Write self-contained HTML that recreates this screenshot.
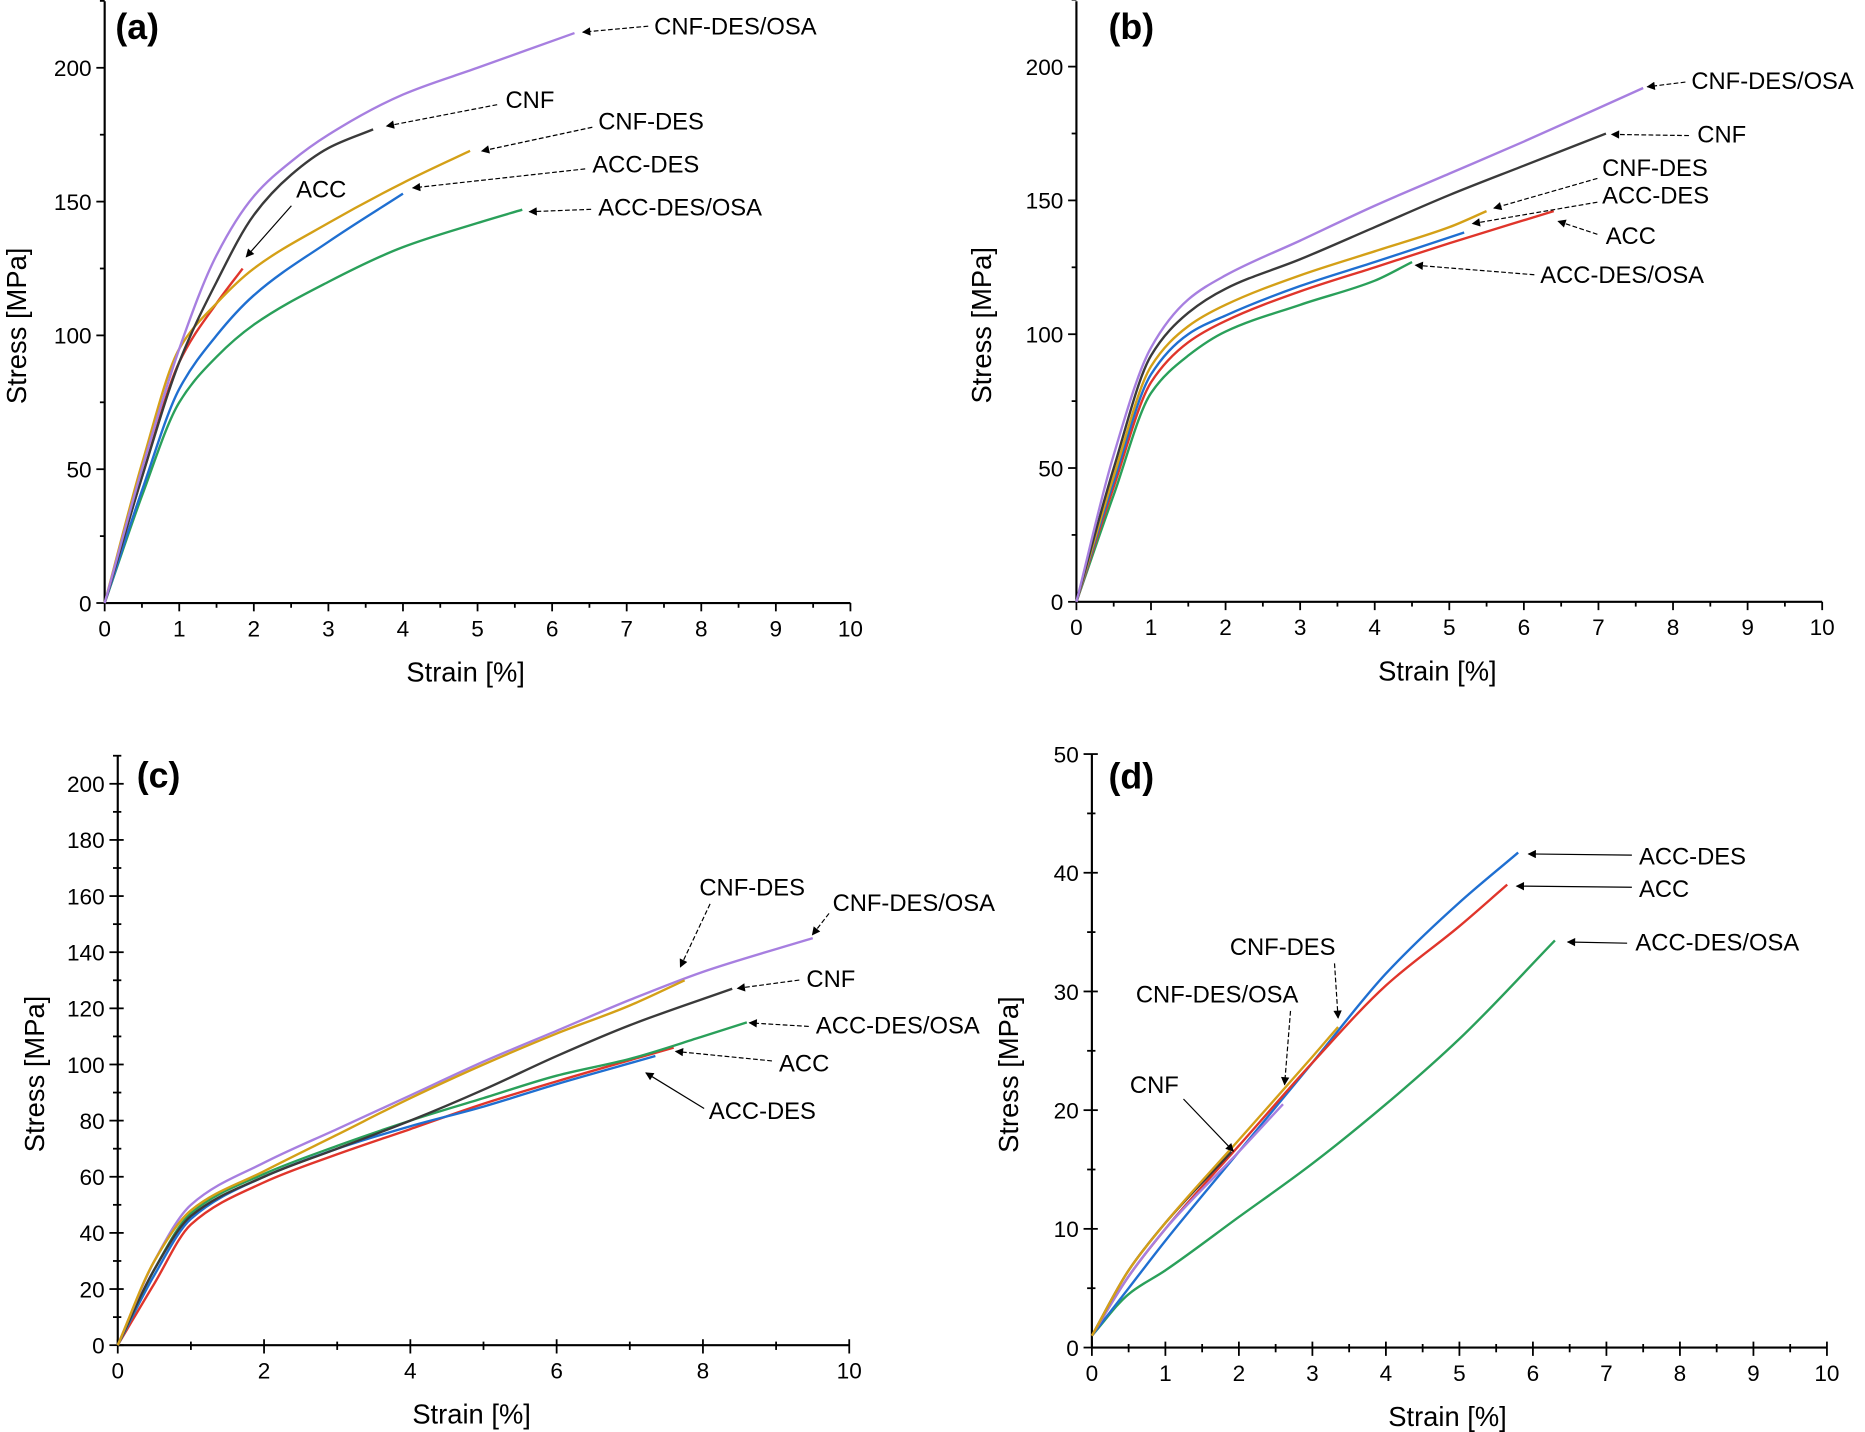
<!DOCTYPE html>
<html><head><meta charset="utf-8"><style>
html,body{margin:0;padding:0;background:#fff;}
svg{display:block;font-family:"Liberation Sans",Arial,sans-serif;}
</style></head><body>
<svg id="chart" width="1865" height="1432" viewBox="0 0 1568 1204" preserveAspectRatio="none" xmlns="http://www.w3.org/2000/svg">
<defs><marker id="ah" viewBox="0 0 10 10" refX="9" refY="5" markerWidth="10" markerHeight="7" orient="auto" markerUnits="userSpaceOnUse"><path d="M0,0 L10,5 L0,10 z" fill="#000"/></marker></defs>
</svg>
<script>
// ---- data (strain %, stress MPa) ----
const seriesNames = ["CNF-DES/OSA","CNF","CNF-DES","ACC-DES","ACC","ACC-DES/OSA"];
const seriesColors = ["#a77fe0","#3a3a3a","#d4a017","#1f6fd1","#e0352b","#2aa05a"];
// panel a
const a_cnfdesosa_x=[0,0.5,1,1.5,2,2.5,3,4,5,6.3];
const a_cnfdesosa_y=[0,50,95,130,152,165,175,190,200,213];
const a_cnf_x=[0,0.5,1,1.5,2,2.5,3,3.6];
const a_cnf_y=[0,47,90,120,145,160,170,177];
const a_cnfdes_x=[0,0.5,1,1.5,2,3,4,4.9];
const a_cnfdes_y=[0,52,95,112,125,142,157,169];
const a_accdes_x=[0,0.5,1,1.5,2,3,4];
const a_accdes_y=[0,42,80,100,115,135,153];
const a_acc_x=[0,0.5,1,1.5,1.85];
const a_acc_y=[0,47,90,112,125];
const a_accdesosa_x=[0,0.5,1,1.5,2,3,4,5,5.6];
const a_accdesosa_y=[0,40,75,92,104,120,133,142,147];
// panel b
const b_cnfdesosa_x=[0,0.5,1,1.5,2,3,4,5,6,7.6];
const b_cnfdesosa_y=[0,55,95,113,122,135,148,160,172,192];
const b_cnf_x=[0,0.5,1,1.5,2,3,4,5,6,7.1];
const b_cnf_y=[0,50,92,108,117,128,140,152,163,175];
const b_cnfdes_x=[0,0.5,1,1.5,2,3,4,5,5.5];
const b_cnfdes_y=[0,47,88,103,111,122,131,140,146];
const b_accdes_x=[0,0.5,1,1.5,2,3,4,5.2];
const b_accdes_y=[0,45,85,100,107,118,127,138];
const b_acc_x=[0,0.5,1,1.5,2,3,4,5,6.4];
const b_acc_y=[0,43,82,97,105,116,125,134,146];
const b_accdesosa_x=[0,0.5,1,1.5,2,3,4,4.5];
const b_accdesosa_y=[0,40,78,92,101,111,120,127];
// panel c
const c_cnfdesosa_x=[0,0.5,1,2,3,4,5,6,7,8,9.5];
const c_cnfdesosa_y=[0,30,50,65,77,89,101,112,123,133,145];
const c_cnf_x=[0,0.5,1,2,3,4,5,6,7,8.4];
const c_cnf_y=[0,27,46,60,70,80,91,103,114,127];
const c_cnfdes_x=[0,0.5,1,2,3,4,5,6,7,7.75];
const c_cnfdes_y=[0,30,48,62,75,88,100,111,121,130];
const c_accdes_x=[0,0.5,1,2,3,4,5,6,7.35];
const c_accdes_y=[0,25,45,60,70,78,85,93,103];
const c_acc_x=[0,0.5,1,2,3,4,5,6,7.6];
const c_acc_y=[0,22,43,58,68,77,86,94,106];
const c_accdesosa_x=[0,0.5,1,2,3,4,5,6,7,8,8.6];
const c_accdesosa_y=[0,27,47,61,71,80,88,96,102,110,115];
// panel d
const d_cnfdesosa_x=[0,0.5,1,2,2.6];
const d_cnfdesosa_y=[1,6,10,16.5,20.5];
const d_cnf_x=[0,0.5,1,1.9];
const d_cnf_y=[1,6.5,10.5,16.5];
const d_cnfdes_x=[0,0.5,1,2,3,3.35];
const d_cnfdes_y=[1,6.5,10.5,17.5,24.5,27];
const d_accdes_x=[0,0.5,1,2,3,4,5,5.8];
const d_accdes_y=[1,5,9,16.5,24,31.5,37.5,41.7];
const d_acc_x=[0,0.5,1,2,3,4,5,5.65];
const d_acc_y=[1,6,10,17,24,30.5,35.5,39];
const d_accdesosa_x=[0,0.5,1,2,3,4,5,6.3];
const d_accdesosa_y=[1,4.5,6.5,11,15.5,20.5,26,34.3];

const NS="http://www.w3.org/2000/svg";
const svg=document.getElementById('chart');
function el(tag,attrs,parent){const e=document.createElementNS(NS,tag);for(const k in attrs)e.setAttribute(k,attrs[k]);(parent||svg).appendChild(e);return e;}
// monotone cubic (Fritsch-Carlson) in pixel space
function monoPath(P){
  const n=P.length;
  if(n<3) return 'M'+P.map(p=>p[0].toFixed(1)+','+p[1].toFixed(1)).join(' L');
  const dx=[],s=[];
  for(let i=0;i<n-1;i++){dx[i]=P[i+1][0]-P[i][0];s[i]=(P[i+1][1]-P[i][1])/dx[i];}
  const m=[s[0]];
  for(let i=1;i<n-1;i++){
    if(s[i-1]*s[i]<=0)m[i]=0;
    else{const w1=2*dx[i]+dx[i-1],w2=dx[i]+2*dx[i-1];m[i]=(w1+w2)/(w1/s[i-1]+w2/s[i]);}
  }
  m[n-1]=s[n-2];
  let d='M'+P[0][0].toFixed(1)+','+P[0][1].toFixed(1);
  for(let i=0;i<n-1;i++){
    const h=dx[i]/3;
    d+=` C${(P[i][0]+h).toFixed(1)},${(P[i][1]+m[i]*h).toFixed(1)} ${(P[i+1][0]-h).toFixed(1)},${(P[i+1][1]-m[i+1]*h).toFixed(1)} ${P[i+1][0].toFixed(1)},${P[i+1][1].toFixed(1)}`;
  }
  return d;
}

function panel(p){
  const g=el('g',{});
  
  
  const sx=v=>p.x0+(v-p.xmin)/(p.xmax-p.xmin)*(p.x1-p.x0);
  const sy=v=>p.y0-(v-p.ymin)/(p.ymax-p.ymin)*(p.y0-p.y1);
  const ax=el('line',{x1:p.x0,y1:p.y0,x2:p.x1,y2:p.y0,stroke:'#000','stroke-width':1.8},g);
  
  
  const ay=el('line',{x1:p.x0,y1:p.y0,x2:p.x0,y2:p.ytop,stroke:'#000','stroke-width':1.8},g);
  
  
  const ti=p.cross?5:0;
  for(let v=p.xmin;v<=p.xmax+1e-9;v+=p.xminor){
    const major=Math.abs(v/p.xstep-Math.round(v/p.xstep))<1e-6;
    const x=sx(v);
    el('line',{x1:x,y1:p.y0-(major?ti:ti*0.6),x2:x,y2:p.y0+(major?7:4),stroke:'#000','stroke-width':1.5},g);
    if(major){const t=el('text',{x:x,y:p.y0+28,'text-anchor':'middle','font-size':19},g);t.textContent=+v.toFixed(2);
      }
  }
  for(let v=p.ymin;v<=p.ymaxTick+1e-9;v+=p.yminor){
    const major=Math.abs(v/p.ystep-Math.round(v/p.ystep))<1e-6;
    const y=sy(v);
    el('line',{x1:p.x0+(major?ti:ti*0.6),y1:y,x2:p.x0-(major?7:4),y2:y,stroke:'#000','stroke-width':1.5},g);
    if(major){const t=el('text',{x:p.x0-11,y:y+7,'text-anchor':'end','font-size':19},g);t.textContent=+v.toFixed(2);
      }
  }
  const xt=el('text',{x:(p.x0+p.x1)/2-10,y:p.y0+66,'text-anchor':'middle','font-size':23},g);xt.textContent='Strain [%]';
  
  const yx=p.x0-p.ylab, yy=(p.y0+p.ytop)/2+20;
  const yt=el('text',{x:yx,y:yy,'text-anchor':'middle','font-size':23,transform:`rotate(-90 ${yx} ${yy})`},g);yt.textContent='Stress [MPa]';
  
  const pl=el('text',{x:p.lx,y:p.ly,'font-size':30,'font-weight':'bold'},g);pl.textContent='('+p.id+')';
  
  p.series.forEach(s=>{
    const pts=s.x.map((v,i)=>[sx(v),sy(s.y[i])]);
    const path=el('path',{d:monoPath(pts),fill:'none',stroke:seriesColors[s.c],'stroke-width':2,'stroke-linejoin':'round'},g);
    
    
  });
  p.ann.forEach(a=>{
    const t=el('text',{x:a[1],y:a[2],'font-size':20},g);t.textContent=a[0];
    
    const l=el('line',{x1:a[3],y1:a[4],x2:a[5],y2:a[6],stroke:'#000','stroke-width':1,'stroke-dasharray':a[7]?'4,2':'none','marker-end':'url(#ah)'},g);
    
  });
}

panel({id:'a',x0:88,x1:715,y0:507,y1:57,ytop:1,xmin:0,xmax:10,xstep:1,xminor:0.5,ymin:0,ymax:200,ymaxTick:225,ystep:50,yminor:25,ylab:66,lx:97,ly:33,cross:false,
 series:[{x:a_accdesosa_x,y:a_accdesosa_y,c:5},{x:a_accdes_x,y:a_accdes_y,c:3},{x:a_acc_x,y:a_acc_y,c:4},{x:a_cnfdes_x,y:a_cnfdes_y,c:2},{x:a_cnf_x,y:a_cnf_y,c:1},{x:a_cnfdesosa_x,y:a_cnfdesosa_y,c:0}],
 ann:[["CNF-DES/OSA",550,29,545,22,490,27,1],["CNF",425,91,418,88,325,106,1],["CNF-DES",503,109,498,107,405,127,1],["ACC-DES",498,145,492,142,347,158,1],["ACC-DES/OSA",503,181,497,176,445,178,1],["ACC",249,166,245,173,207,216,0]]});
panel({id:'b',x0:905,x1:1532,y0:506,y1:56,ytop:1,xmin:0,xmax:10,xstep:1,xminor:0.5,ymin:0,ymax:200,ymaxTick:225,ystep:50,yminor:25,ylab:72,lx:932,ly:33,cross:false,
 series:[{x:b_accdesosa_x,y:b_accdesosa_y,c:5},{x:b_acc_x,y:b_acc_y,c:4},{x:b_accdes_x,y:b_accdes_y,c:3},{x:b_cnfdes_x,y:b_cnfdes_y,c:2},{x:b_cnf_x,y:b_cnf_y,c:1},{x:b_cnfdesosa_x,y:b_cnfdesosa_y,c:0}],
 ann:[["CNF-DES/OSA",1422,75,1417,69,1385,73,1],["CNF",1427,120,1420,114,1355,113,1],["CNF-DES",1347,148,1343,150,1256,175,1],["ACC-DES",1347,171,1343,170,1238,188,1],["ACC",1350,205,1343,197,1310,186,1],["ACC-DES/OSA",1295,238,1290,231,1190,223,1]]});
panel({id:'c',x0:99,x1:714,y0:1131,y1:659,ytop:635,xmin:0,xmax:10,xstep:2,xminor:1,ymin:0,ymax:200,ymaxTick:210,ystep:20,yminor:10,ylab:62,lx:115,ly:662,cross:true,
 series:[{x:c_acc_x,y:c_acc_y,c:4},{x:c_accdes_x,y:c_accdes_y,c:3},{x:c_accdesosa_x,y:c_accdesosa_y,c:5},{x:c_cnf_x,y:c_cnf_y,c:1},{x:c_cnfdesosa_x,y:c_cnfdesosa_y,c:0},{x:c_cnfdes_x,y:c_cnfdes_y,c:2}],
 ann:[["CNF-DES",588,753,597,760,572,813,1],["CNF-DES/OSA",700,766,697,768,683,786,1],["CNF",678,830,672,824,620,831,1],["ACC-DES/OSA",686,869,680,863,630,860,1],["ACC",655,901,649,892,568,884,1],["ACC-DES",596,941,592,932,543,902,0]]});
panel({id:'d',x0:918,x1:1536,y0:1133,y1:634,ytop:634,xmin:0,xmax:10,xstep:1,xminor:0.5,ymin:0,ymax:50,ymaxTick:50,ystep:10,yminor:5,ylab:62,lx:932,ly:663,cross:true,
 series:[{x:d_accdesosa_x,y:d_accdesosa_y,c:5},{x:d_accdes_x,y:d_accdes_y,c:3},{x:d_acc_x,y:d_acc_y,c:4},{x:d_cnfdesosa_x,y:d_cnfdesosa_y,c:0},{x:d_cnf_x,y:d_cnf_y,c:1},{x:d_cnfdes_x,y:d_cnfdes_y,c:2}],
 ann:[["ACC-DES",1378,727,1372,719,1285,718,0],["ACC",1378,754,1372,746,1275,745,0],["ACC-DES/OSA",1375,799,1368,793,1318,792,0],["CNF-DES",1034,803,1122,810,1125,856,1],["CNF-DES/OSA",955,843,1085,850,1080,912,1],["CNF",950,919,995,924,1037,968,0]]});
</script>
</body></html>
